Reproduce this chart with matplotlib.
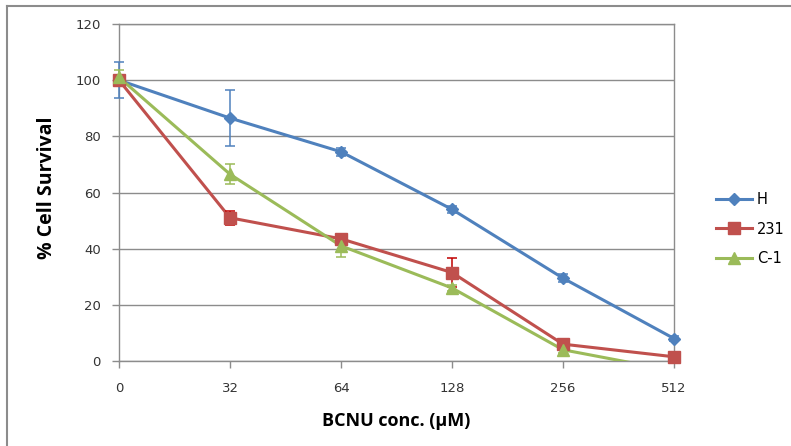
import matplotlib
matplotlib.use("Agg")
import matplotlib.pyplot as plt
from matplotlib.lines import Line2D

conc_labels = ["0", "32", "64", "128", "256", "512"]
series_names = ["H", "231", "C-1"]
h_vals = [100, 86.5, 74.5, 54, 29.5, 8]
h_err = [6.5, 10, 1.5, 1.2, 1.5, 1.0]
r231_vals = [100, 51, 43.5, 31.5, 6, 1.5]
r231_err = [1.5, 2.5, 1.5, 5, 2, 0.8]
c1_vals = [101, 66.5, 41, 26, 4, -3.5]
c1_err = [2.5, 3.5, 4, 1, 1, 1]

colors = ["#4F81BD", "#C0504D", "#9BBB59"]
err_colors = ["#4F81BD", "#C00000", "#9BBB59"]
markers = ["D", "s", "^"]
msizes = [6.5, 8.5, 9]

fig = plt.figure(figsize=(7.91, 4.46), dpi=100)
ax = fig.add_axes([119 / 791, 85 / 446, (674 - 119) / 791, (361 - 24) / 446])

x = list(range(len(conc_labels)))
handles = []
for vals, errs, c, ec, m, ms, name in zip(
        [h_vals, r231_vals, c1_vals], [h_err, r231_err, c1_err],
        colors, err_colors, markers, msizes, series_names):
    # connecting line, clipped to the plot area
    ax.plot(x, vals, color=c, linewidth=2.2, zorder=3)
    # error bars and markers stay visible on the axis edges
    shown = [i for i, v in enumerate(vals) if v >= 0]
    ax.errorbar([x[i] for i in shown], [vals[i] for i in shown],
                yerr=[errs[i] for i in shown], fmt="none", ecolor=ec,
                elinewidth=1.1, capsize=3.5, capthick=1.1, zorder=3,
                clip_on=False)
    ax.plot([x[i] for i in shown], [vals[i] for i in shown], linestyle="none",
            marker=m, markersize=ms, color=c, markeredgecolor=c, zorder=4,
            clip_on=False)
    handles.append(Line2D([], [], color=c, linewidth=2.2, marker=m,
                          markersize=ms, markeredgecolor=c, label=name))

ax.set_xlim(0, 5)
ax.set_ylim(0, 120)
ax.set_yticks(range(0, 121, 20))
ax.set_xticks(x)
ax.set_xticklabels(conc_labels)
ax.yaxis.grid(True, color="#8c8c8c", linewidth=1)
ax.set_axisbelow(True)
for s in ax.spines.values():
    s.set_color("#8c8c8c")
    s.set_linewidth(1)
ax.tick_params(axis="both", colors="#8c8c8c", labelcolor="#333333",
               labelsize=9.5, length=5, width=1)
ax.tick_params(axis="x", pad=10)
ax.tick_params(axis="y", pad=8)
for lbl in ax.get_xticklabels() + ax.get_yticklabels():
    lbl.set_family("DejaVu Sans")

ax.set_ylabel("% Cell Survival", fontsize=14, fontweight="bold",
              family="Open Sans")
ax.yaxis.set_label_coords(-0.111, 0.515)
ax.set_xlabel("BCNU conc. (\u03bcM)", fontsize=13, fontweight="bold",
              family="Open Sans", labelpad=12)

ax.legend(handles=handles, loc="upper left", bbox_to_anchor=(716 / 791, 1 - 192 / 446),
          bbox_transform=fig.transFigure, frameon=False, fontsize=10.5,
          handlelength=2.5, labelspacing=1.0, handletextpad=0.3,
          borderpad=0, borderaxespad=0)

# outer chart border (left and top edges)
fig.add_artist(Line2D([7 / 791, 7 / 791], [0, 1 - 6 / 446],
                      transform=fig.transFigure, color="#8c8c8c", linewidth=1.5))
fig.add_artist(Line2D([7 / 791, 1], [1 - 6 / 446, 1 - 6 / 446],
                      transform=fig.transFigure, color="#8c8c8c", linewidth=1.5))

fig.savefig("out.png", dpi=100)
